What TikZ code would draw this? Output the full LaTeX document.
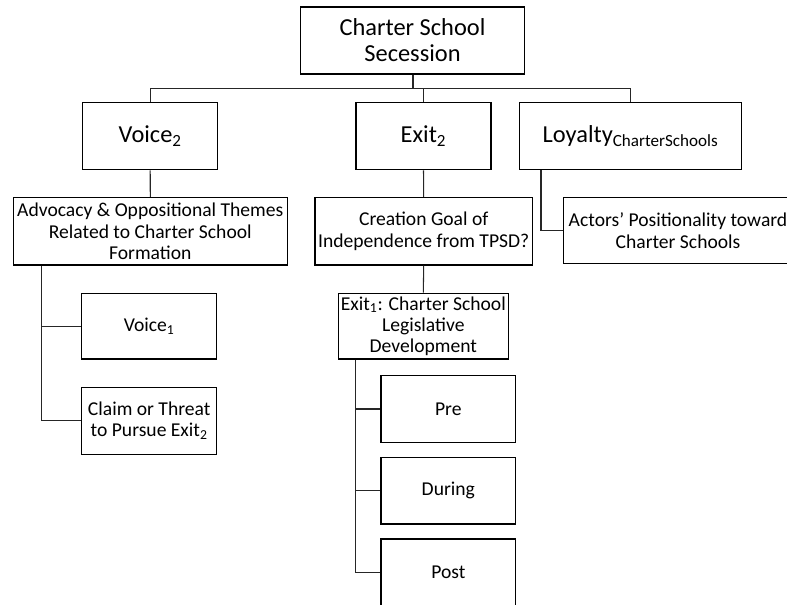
\documentclass[tikz,border=0pt]{standalone}
\usepackage{fontspec}
\setmainfont{Carlito}
\begin{document}
\begin{tikzpicture}[x=0.75pt,y=-0.75pt,
  bx/.style={draw=black,line width=1pt,inner sep=0pt,align=center,text=black},
  big/.style={bx,font=\fontsize{18.3}{19.5}\selectfont},
  small/.style={bx,font=\fontsize{14.7}{16}\selectfont},
  wire/.style={draw=black!85,line width=0.8pt},
  thickwire/.style={draw=black!85,line width=1.5pt}]
\clip (0,0) rectangle (787,604);
\useasboundingbox (0,0) rectangle (787,604);
% level 0
\node[big,minimum width=223.6*0.75pt,minimum height=67*0.75pt] (top) at (412.5,40.5) {Charter School\\Secession};
% level 1
\node[big,minimum width=135*0.75pt,minimum height=67*0.75pt] (voice2) at (150.2,136.3) {Voice\textsubscript{2}};
\node[big,minimum width=135*0.75pt,minimum height=67*0.75pt] (exit2) at (423.5,136.3) {Exit\textsubscript{2}};
\node[big,minimum width=222.4*0.75pt,minimum height=67*0.75pt] (loyalty) at (630.5,136.3) {Loyalty\textsubscript{CharterSchools}};
% level 2
\node[small,minimum width=274*0.75pt,minimum height=67.3*0.75pt] (advocacy) at (150.3,231.3) {Advocacy \& Oppositional Themes\\Related to Charter School\\Formation};
\node[small,minimum width=217.3*0.75pt,minimum height=67.3*0.75pt] (creation) at (423.7,231.3) {Creation Goal of\\Independence from TPSD?};
\node[small,minimum width=229.4*0.75pt,minimum height=65.6*0.75pt] (actors) at (678,230.5) {Actors’ Positionality toward\\Charter Schools};
% level 3
\node[small,minimum width=170*0.75pt,minimum height=65.7*0.75pt] (exit1) at (423.3,326.2) {Exit\textsubscript{1}: Charter School\\Legislative\\Development};
\node[small,minimum width=135*0.75pt,minimum height=65.7*0.75pt] (voice1) at (149.2,326.2) {Voice\textsubscript{1}};
\node[small,minimum width=135*0.75pt,minimum height=67*0.75pt] (claim) at (149.2,420.8) {Claim or Threat\\to Pursue Exit\textsubscript{2}};
\node[small,minimum width=134.7*0.75pt,minimum height=66.6*0.75pt] (pre) at (448.3,409) {Pre};
\node[small,minimum width=134.7*0.75pt,minimum height=66.6*0.75pt] (during) at (448.3,490.7) {During};
\node[small,minimum width=134.7*0.75pt,minimum height=66.6*0.75pt] (post) at (448.3,572.3) {Post};
% connectors
\coordinate (bus) at (0,88.7);
\coordinate (lx) at (541,0);
\coordinate (ax) at (41.7,0);
\coordinate (ex) at (355.7,0);
\draw[thickwire] (top.south) -- (top.south |- bus);
\draw[wire] (voice2.north) |- (bus -| loyalty.north) -- (loyalty.north);
\draw[wire] (exit2.north) -- (exit2.north |- bus);
\draw[wire] (voice2.south) -- (advocacy.north);
\draw[wire] (exit2.south) -- (creation.north);
\draw[wire] (creation.south) -- (exit1.north);
\draw[wire] (lx |- loyalty.south) |- (actors.west);
\draw[wire] (ax |- advocacy.south) |- (voice1.west);
\draw[wire] (ax |- advocacy.south) |- (claim.west);
\draw[wire] (ex |- exit1.south) |- (pre.west);
\draw[wire] (ex |- exit1.south) |- (during.west);
\draw[wire] (ex |- exit1.south) |- (post.west);
\end{tikzpicture}
\end{document}
